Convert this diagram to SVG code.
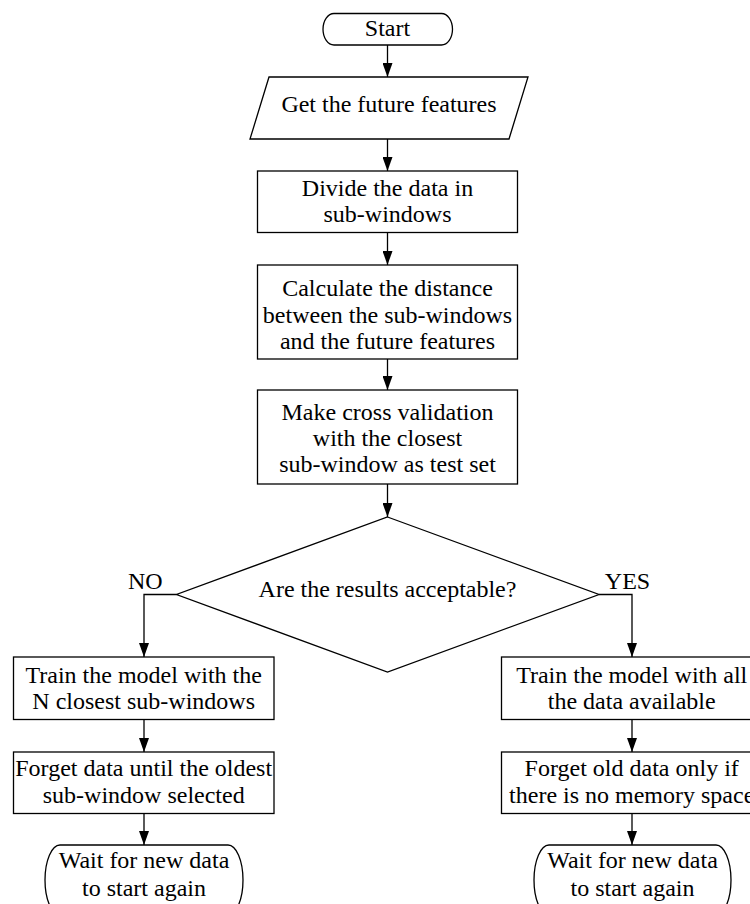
<svg xmlns="http://www.w3.org/2000/svg" width="750" height="904" viewBox="0 0 750 904">
<style>
.s{fill:#fff;stroke:#000;stroke-width:1.3}
.c{fill:none;stroke:#000;stroke-width:1.3}
text{font-family:"Liberation Serif","Times New Roman",serif;font-size:24px;fill:#000;text-anchor:middle}
</style>
<defs>
<marker id="ah" markerUnits="userSpaceOnUse" markerWidth="14" markerHeight="10" refX="14" refY="5" orient="auto">
<path d="M0,0 L14,5 L0,10 z" fill="#000"/>
</marker>
</defs>
<rect width="750" height="904" fill="#fff"/>
<g id="connectors">
<path class="c" d="M387.5,45 V77" marker-end="url(#ah)"/>
<path class="c" d="M387.5,139 V171" marker-end="url(#ah)"/>
<path class="c" d="M387.5,232.5 V265" marker-end="url(#ah)"/>
<path class="c" d="M387.5,359 V390" marker-end="url(#ah)"/>
<path class="c" d="M387.5,484 V517" marker-end="url(#ah)"/>
<path class="c" d="M176.5,594.5 H144 V657" marker-end="url(#ah)"/>
<path class="c" d="M599,594.5 H632 V657" marker-end="url(#ah)"/>
<path class="c" d="M144,719.5 V752" marker-end="url(#ah)"/>
<path class="c" d="M144,813.5 V845" marker-end="url(#ah)"/>
<path class="c" d="M632,719.5 V752" marker-end="url(#ah)"/>
<path class="c" d="M632,813.5 V845" marker-end="url(#ah)"/>
<text x="145.3" y="589">NO</text>
<text x="627.5" y="589">YES</text>
</g>
<g id="start">
<path class="s" d="M334,13.5 H441.5 A11,15.75 0 0 1 441.5,45 H334 A11,15.75 0 0 1 334,13.5 z"/>
<text x="387.5" y="36">Start</text>
</g>
<g id="get">
<path class="s" d="M269,77 H528 L509,139 H250 z"/>
<text x="389" y="112">Get the future features</text>
</g>
<g id="divide">
<rect class="s" x="257.5" y="171" width="260" height="61.5"/>
<text x="387.5" y="196">Divide the data in</text>
<text x="387.5" y="222">sub-windows</text>
</g>
<g id="calculate">
<rect class="s" x="257.5" y="265" width="260" height="94"/>
<text x="387.5" y="296">Calculate the distance</text>
<text x="387.5" y="322.5">between the sub-windows</text>
<text x="387.5" y="349">and the future features</text>
</g>
<g id="crossval">
<rect class="s" x="257.5" y="390" width="260" height="94"/>
<text x="387.5" y="419.5">Make cross validation</text>
<text x="387.5" y="445.5">with the closest</text>
<text x="387.5" y="472">sub-window as test set</text>
</g>
<g id="decision">
<path class="s" d="M387.5,517 L599,594.5 L387.5,672 L176.5,594.5 z"/>
<text x="387.5" y="597">Are the results acceptable?</text>
</g>
<g id="train-n">
<rect class="s" x="13.5" y="657" width="260.5" height="62.5"/>
<text x="143.7" y="682.7">Train the model with the</text>
<text x="143.7" y="709.3">N closest sub-windows</text>
</g>
<g id="forget-oldest">
<rect class="s" x="13.5" y="752" width="260.5" height="61.5"/>
<text x="143.7" y="776">Forget data until the oldest</text>
<text x="143.7" y="803.3">sub-window selected</text>
</g>
<g id="wait-left">
<path class="s" d="M60,845 H228 A15,35 0 0 1 228,915 H60 A15,35 0 0 1 60,845 z"/>
<text x="144" y="868.3">Wait for new data</text>
<text x="144" y="896">to start again</text>
</g>
<g id="train-all">
<rect class="s" x="501.5" y="657" width="261" height="62.5"/>
<text x="631.7" y="682.7">Train the model with all</text>
<text x="631.7" y="709.3">the data available</text>
</g>
<g id="forget-old">
<rect class="s" x="501.5" y="752" width="261" height="61.5"/>
<text x="631.7" y="776">Forget old data only if</text>
<text x="631.7" y="803.3">there is no memory space</text>
</g>
<g id="wait-right">
<path class="s" d="M549,845 H716 A15,35 0 0 1 716,915 H549 A15,35 0 0 1 549,845 z"/>
<text x="632.5" y="868.3">Wait for new data</text>
<text x="632.5" y="896">to start again</text>
</g>
</svg>
